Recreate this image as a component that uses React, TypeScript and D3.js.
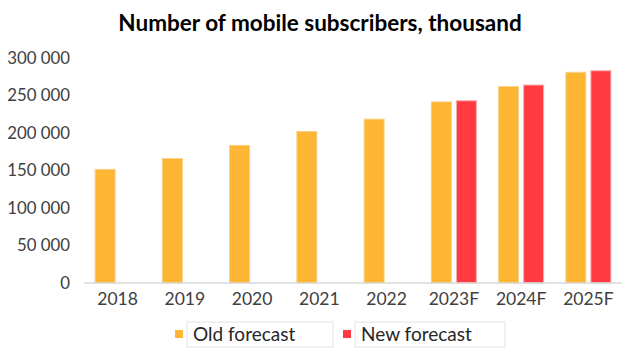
import React from "react";
import * as d3 from "d3";

const categories = ["2018", "2019", "2020", "2021", "2022", "2023F", "2024F", "2025F"];
const oldForecast = [151500, 166000, 183500, 202000, 218500, 241500, 262000, 281000];
const newForecast: (number | null)[] = [null, null, null, null, null, 243000, 264000, 283000];
const yTicks = [0, 50000, 100000, 150000, 200000, 250000, 300000];
const seriesNames = ["Old forecast", "New forecast"];
const colors = ["#FDB633", "#FF3A40"];

const W = 640;
const H = 361;
const M = { left: 84, right: 18, top: 58, bottom: 78 };

export default function App() {
  const x = d3
    .scaleBand<string>()
    .domain(categories)
    .range([M.left, W - M.right])
    .paddingInner(0)
    .paddingOuter(0);
  const y = d3.scaleLinear().domain([0, 300000]).range([H - M.bottom, M.top]);
  const bw = x.bandwidth();
  const inner = d3
    .scaleBand<string>()
    .domain(["0", "1"])
    .range([bw * 0.165, bw * 0.835])
    .paddingInner(0.2)
    .paddingOuter(0);
  const fmt = (v: number) => d3.format(",")(v).replace(/,/g, " ");
  const font = "Lato, 'Open Sans', sans-serif";
  const series = [oldForecast, newForecast];

  return (
    <svg width={W} height={H} style={{ position: "absolute", left: 0, top: 0, background: "#fff" }}>
      <text x={320} y={31} textAnchor="middle" fontFamily={font} fontWeight={700} fontSize={22.5} fill="#000">
        Number of mobile subscribers, thousand
      </text>
      {yTicks.map((t) => (
        <text key={t} x={70} y={y(t)} dy="0.35em" textAnchor="end" fontFamily={font} fontSize={16.8} fill="#404040">
          {fmt(t)}
        </text>
      ))}
      {series.map((s, si) =>
        s.map((v, i) =>
          v == null ? null : (
            <rect
              key={`${si}-${i}`}
              x={(x(categories[i]) as number) + (inner(String(si)) as number)}
              y={y(v)}
              width={inner.bandwidth()}
              height={y(0) - y(v)}
              fill={colors[si]}
              stroke={si === 0 ? "#F6D38A" : "#F5B0B2"}
              strokeWidth={1}
            />
          )
        )
      )}
      <line x1={M.left} x2={W - M.right} y1={y(0)} y2={y(0)} stroke="#D9D9D9" strokeWidth={1.5} />
      {categories.map((c) => (
        <text key={c} x={(x(c) as number) + bw / 2} y={305} textAnchor="middle" fontFamily={font} fontSize={17.5} fill="#404040">
          {c}
        </text>
      ))}
      {seriesNames.map((n, i) => {
        const lx = [175, 343][i];
        return (
          <g key={n}>
            <rect x={lx} y={330} width={8} height={8} fill={colors[i]} />
            <rect x={lx + 12} y={322} width={[146, 150][i]} height={25} fill="none" stroke="#E3E3E3" strokeWidth={1} />
            <text x={lx + 18} y={341} fontFamily={font} fontSize={19} fill="#262626">
              {n}
            </text>
          </g>
        );
      })}
    </svg>
  );
}
